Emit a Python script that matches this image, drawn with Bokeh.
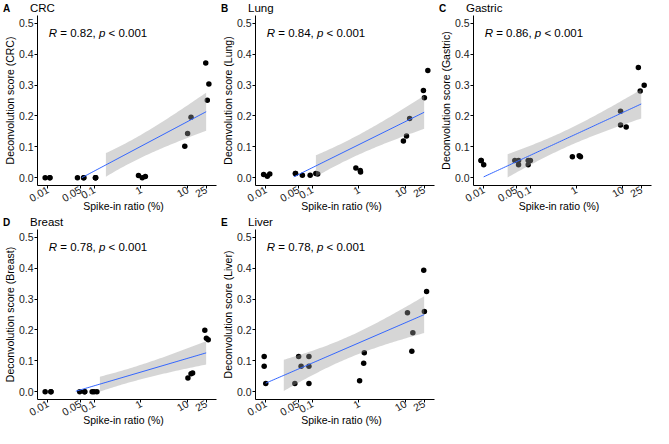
import numpy as np
from math import gamma, sqrt, pi
from bokeh.plotting import figure
from bokeh.models import Range1d, FixedTicker, PrintfTickFormatter, CustomJSTickFormatter, Label, Div
from bokeh.layouts import column, row
from bokeh.embed import file_html
from bokeh.resources import INLINE

FONT = "Liberation Sans"

# ---------------- data ----------------
x_ticks = [0.01, 0.05, 0.1, 1, 10, 25]
x_tick_labels = ["0.01", "0.05", "0.1", "1", "10", "25"]
y_ticks = [0.0, 0.1, 0.2, 0.3, 0.4, 0.5]

panel_letters = ["A", "B", "C", "D", "E"]
panel_names = ["CRC", "Lung", "Gastric", "Breast", "Liver"]
r_values = ["0.82", "0.84", "0.86", "0.78", "0.78"]
p_value_text = "0.001"
x_label = "Spike-in ratio (%)"

# CRC
crc_ratio = [0.01] * 3 + [0.05] * 3 + [0.1] * 3 + [1] * 3 + [10] * 3 + [25] * 3
crc_x = [0.0088, 0.0111, 0.0111, 0.0434, 0.0591, 0.0591, 0.106, 0.106, 0.106,
         0.884, 1.064, 1.241, 8.70, 10.0, 11.85, 24.5, 26.5, 28.6]
crc_y = [0.0, 0.0, 0.0, 0.0, 0.0, 0.0, 0.0, 0.0, 0.0,
         0.007, 0.0, 0.004, 0.102, 0.143, 0.196, 0.371, 0.251, 0.303]

# Lung
lung_ratio = [0.01] * 3 + [0.05] * 3 + [0.1] * 3 + [1] * 3 + [10] * 3 + [25] * 3
lung_x = [0.0090, 0.0108, 0.0122, 0.0434, 0.0610, 0.0434, 0.0897, 0.1186, 0.130,
          0.857, 1.064, 1.08, 8.97, 10.47, 12.2, 24.1, 25.3, 30.0]
lung_y = [0.0105, 0.0053, 0.0126, 0.0137, 0.0084, 0.0137, 0.0084, 0.0137, 0.0126,
          0.0316, 0.0232, 0.019, 0.119, 0.135, 0.192, 0.282, 0.259, 0.347]

# Gastric
gastric_ratio = [0.01] * 3 + [0.05] * 3 + [0.1] * 3 + [1] * 3 + [10] * 3 + [25] * 3
gastric_x = [0.0088, 0.0100, 0.0088, 0.0469, 0.0565, 0.0565, 0.0912, 0.0912, 0.1016,
             0.818, 1.149, 1.222, 8.97, 8.97, 11.85, 21.7, 23.8, 29.0]
gastric_y = [0.0557, 0.042, 0.0557, 0.0557, 0.0557, 0.042, 0.0557, 0.042, 0.0557,
             0.0683, 0.0714, 0.0683, 0.215, 0.171, 0.164, 0.357, 0.2805, 0.299]

# Breast
breast_ratio = [0.01] * 3 + [0.05] * 3 + [0.1] * 3 + [10] * 3 + [25] * 3
breast_x = [0.0088, 0.0117, 0.0117, 0.0484, 0.0619, 0.0619, 0.0897, 0.0984, 0.1133,
            10.16, 11.85, 12.8, 23.4, 25.3, 27.7]
breast_y = [0.0, 0.0, 0.0, 0.0, 0.0, 0.0, 0.0, 0.0, 0.0,
            0.0447, 0.0585, 0.0606, 0.199, 0.1734, 0.168]

# Liver
liver_ratio = [0.01] * 3 + [0.05] * 3 + [0.1] * 3 + [1] * 3 + [10] * 3 + [25] * 3
liver_x = [0.00925, 0.00925, 0.0100, 0.0421, 0.0507, 0.0573, 0.0844, 0.0844, 0.0844,
           1.031, 1.261, 1.30, 10.96, 13.6, 14.3, 24.5, 25.3, 28.2]
liver_y = [0.1143, 0.0823, 0.0267, 0.0267, 0.1143, 0.0823, 0.1143, 0.0823, 0.0267,
           0.0353, 0.0919, 0.126, 0.2553, 0.1314, 0.1912, 0.393, 0.2596, 0.3248]

panels_ratio = [crc_ratio, lung_ratio, gastric_ratio, breast_ratio, liver_ratio]
panels_x = [crc_x, lung_x, gastric_x, breast_x, liver_x]
panels_y = [crc_y, lung_y, gastric_y, breast_y, liver_y]

Y_LIM = (0.0, 0.5)


def t975(df):
    xs = np.linspace(0, 12, 240001)
    c = gamma((df + 1) / 2) / (sqrt(df * pi) * gamma(df / 2))
    pdf = c * (1 + xs ** 2 / df) ** (-(df + 1) / 2)
    cdf = 0.5 + np.concatenate([[0.0], np.cumsum((pdf[1:] + pdf[:-1]) / 2 * np.diff(xs))])
    return float(np.interp(0.975, cdf, xs))


def smooth(ratio, y):
    lx = np.log10(np.asarray(ratio, float))
    y = np.asarray(y, float)
    n = len(lx)
    xm = lx.mean()
    sxx = ((lx - xm) ** 2).sum()
    b1 = ((lx - xm) * (y - y.mean())).sum() / sxx
    b0 = y.mean() - b1 * xm
    resid = y - (b0 + b1 * lx)
    s = sqrt((resid ** 2).sum() / (n - 2))
    g = np.linspace(lx.min(), lx.max(), 80)
    fit = b0 + b1 * g
    se = s * np.sqrt(1.0 / n + (g - xm) ** 2 / sxx)
    t = t975(n - 2)
    return 10 ** g, fit, fit - t * se, fit + t * se


def style_text(font_size="10.5px"):
    return dict(text_font=FONT, text_font_size=font_size)


HEADER_H = 14
FOOTER_H = 14
FOOTER_PULL = 8
LEFT_B = 31
RIGHT_B = 2


def make_header(i, w):
    html = (
        '<div style="position:relative;width:%dpx;height:%dpx;font-family:\'%s\';color:black;">'
        '<span style="position:absolute;left:3px;top:4px;font-size:10px;font-weight:bold;line-height:10px;">%s</span>'
        '<span style="position:absolute;left:30px;top:2px;font-size:11.5px;line-height:12px;">%s</span>'
        '</div>' % (w, HEADER_H, FONT, panel_letters[i], panel_names[i])
    )
    return Div(text=html, width=w, height=HEADER_H, margin=(0, 0, 0, 0))


def make_footer(w):
    cx = LEFT_B + (w - LEFT_B - RIGHT_B) / 2.0
    html = (
        '<div style="position:relative;width:%dpx;height:%dpx;font-family:\'%s\';color:black;">'
        '<span style="position:absolute;left:%.1fpx;top:0px;transform:translateX(-50%%);'
        'white-space:nowrap;font-size:10.5px;line-height:12px;">%s</span>'
        '</div>' % (w, FOOTER_H, FONT, cx, x_label)
    )
    return Div(text=html, width=w, height=FOOTER_H, margin=(-FOOTER_PULL, 0, 0, 0))


def make_panel(i, w, h):
    name = panel_names[i]
    p = figure(width=w, height=h - HEADER_H - FOOTER_H + FOOTER_PULL, x_axis_type="log",
               x_range=Range1d(10 ** -2.22, 10 ** 1.62),
               y_range=Range1d(-0.025, 0.525),
               output_backend="svg", toolbar_location=None,
               min_border_left=LEFT_B, min_border_right=RIGHT_B,
               min_border_top=1, min_border_bottom=0)

    p.outline_line_color = None
    p.grid.visible = False
    p.background_fill_color = "white"
    p.border_fill_alpha = 0

    for ax in (p.xaxis[0], p.yaxis[0]):
        ax.axis_line_color = "black"
        ax.axis_line_width = 1
        ax.major_tick_line_color = "black"
        ax.major_tick_in = 0
        ax.major_tick_out = 3
        ax.minor_tick_line_color = None
        ax.major_label_text_font = FONT
        ax.major_label_text_font_size = "10.5px"
        ax.major_label_text_color = "#222222"
        ax.axis_label_text_font = FONT
        ax.axis_label_text_font_size = "10.5px"
        ax.axis_label_text_font_style = "normal"
        ax.axis_label_text_color = "black"
        ax.major_label_standoff = 1
        ax.axis_label_standoff = 1

    p.xaxis.ticker = FixedTicker(ticks=x_ticks)
    p.xaxis.formatter = CustomJSTickFormatter(
        args=dict(tvals=x_ticks, tlabels=x_tick_labels),
        code="""
        for (let k = 0; k < tvals.length; k++) {
          if (Math.abs(tvals[k] - tick) <= 1e-6 * Math.max(1, Math.abs(tvals[k]))) return tlabels[k];
        }
        return '';
        """)
    p.xaxis.major_label_orientation = pi / 6
    p.xaxis.major_label_standoff = 0
    p.yaxis.ticker = FixedTicker(ticks=y_ticks)
    p.yaxis.formatter = PrintfTickFormatter(format="%.1f")
    p.yaxis.axis_label = "Deconvolution score (%s)" % name
    p.yaxis.axis_label_standoff = 0

    # points
    p.scatter(panels_x[i], panels_y[i], size=5.5, color="black", line_width=0)

    # regression + CI (values outside limits dropped, as in the original)
    gx, fit, lo, hi = smooth(panels_ratio[i], panels_y[i])
    band_ok = (lo >= Y_LIM[0]) & (hi <= Y_LIM[1])
    line_ok = (fit >= Y_LIM[0]) & (fit <= Y_LIM[1])
    p.varea(x=gx[band_ok], y1=lo[band_ok], y2=hi[band_ok],
            fill_color="#999999", fill_alpha=0.4)
    p.line(gx[line_ok], fit[line_ok], line_color="#3366FF", line_width=1)

    # annotation: R = .., p < ..   (spaces handled as offsets: SVG trims them)
    fs = 11.5
    sp = 0.278
    parts = [("R", "italic", 0.722 + sp),
             ("= %s," % r_values[i], "normal", 3.642 - sp),
             ("p", "italic", 0.556 + sp),
             ("< %s" % p_value_text, "normal", 0.0)]
    off = 0.0
    for txt, st, em in parts:
        p.add_layout(Label(x=0.0105, y=0.47, text=txt, x_offset=off,
                           text_baseline="middle", text_align="left",
                           text_font_style=st, text_color="black",
                           **style_text("%.1fpx" % fs)))
        off += em * fs
    return column(make_header(i, w), p, make_footer(w), spacing=0)


widths = [218, 218, 217]
H = 214
cells = [make_panel(k, widths[k % 3], H) for k in range(5)]
layout = column(row(cells[0], cells[1], cells[2], spacing=0),
                row(cells[3], cells[4], spacing=0), spacing=0)

open("out.html", "w").write(file_html(layout, INLINE))
